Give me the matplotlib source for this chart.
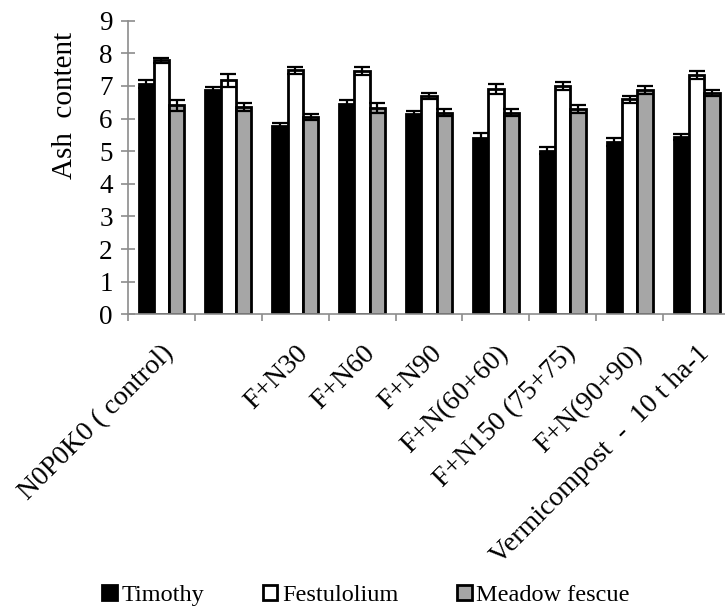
import numpy as np
import matplotlib
matplotlib.use("Agg")
import matplotlib.pyplot as plt

plt.rcParams['font.family'] = ['Liberation Serif', 'DejaVu Serif']

# data
categories = ["N0P0K0 ( control)", "", "F+N30", "F+N60", "F+N90",
              "F+N(60+60)", "F+N150 (75+75)", "F+N(90+90)",
              "Vermicompost  -  10 t ha-1"]
series_names = ["Timothy", "Festulolium", "Meadow fescue"]

timothy = [7.05, 6.86, 5.77, 6.45, 6.15, 5.40, 5.01, 5.28, 5.43]
timothy_err = [0.12, 0.12, 0.08, 0.12, 0.08, 0.15, 0.11, 0.13, 0.10]
festulolium = [7.78, 7.17, 7.48, 7.46, 6.69, 6.90, 7.00, 6.59, 7.33]
festulolium_err = [0.07, 0.21, 0.10, 0.11, 0.10, 0.15, 0.13, 0.11, 0.12]
meadow = [6.41, 6.36, 6.06, 6.33, 6.18, 6.18, 6.29, 6.88, 6.78]
meadow_err = [0.17, 0.13, 0.09, 0.16, 0.10, 0.10, 0.12, 0.12, 0.10]

fig = plt.figure(figsize=(7.25, 6.08), dpi=100)
ax = fig.add_axes([0.1766, 0.483, 0.8303, 0.483])

x = np.arange(len(categories))
w = 0.229
axis_gray = '#8c8c8c'
err_kw = dict(ecolor='black', elinewidth=1.6, capsize=6, capthick=1.6)

bars = []
for off, vals, errs, col in [(-w, timothy, timothy_err, 'black'),
                             (0, festulolium, festulolium_err, 'white'),
                             (w, meadow, meadow_err, '#a6a6a6')]:
    b = ax.bar(x + off, vals, w, yerr=errs, color=col, edgecolor='black',
               linewidth=2.0, error_kw=err_kw, zorder=2)
    bars.append(b)

ax.set_xlim(-0.5, len(categories) - 0.5)
ax.set_ylim(0, 9)
ax.set_yticks(range(0, 10))
ax.tick_params(axis='y', direction='inout', length=10, width=1.2,
               color=axis_gray, labelsize=19.5, pad=6)

# tick marks at group boundaries, labels at group centres
ax.set_xticks(np.arange(len(categories)) - 0.5)
ax.set_xticklabels([])
ax.tick_params(axis='x', which='major', direction='out', length=5,
               width=1.2, color=axis_gray)
ax.set_xticks(x, minor=True)
ax.set_xticklabels(categories, minor=True, rotation=45, ha='right',
                   rotation_mode='anchor', fontsize=20)
ax.tick_params(axis='x', which='minor', length=0, pad=19)

for s in ['top', 'right']:
    ax.spines[s].set_visible(False)
for s in ['left', 'bottom']:
    ax.spines[s].set_color(axis_gray)
    ax.spines[s].set_linewidth(1.2)

ax.set_ylabel("Ash  content", fontsize=21, va='center')
ax.yaxis.set_label_coords(-0.105, 0.711)

fig.legend([b[0] for b in bars], series_names, loc='center',
           bbox_to_anchor=(0.505, 0.021), ncol=3, frameon=False,
           fontsize=17.5, handlelength=0.6, handleheight=0.6,
           handletextpad=0.2, columnspacing=2.4)

fig.savefig("out.png", dpi=100)
